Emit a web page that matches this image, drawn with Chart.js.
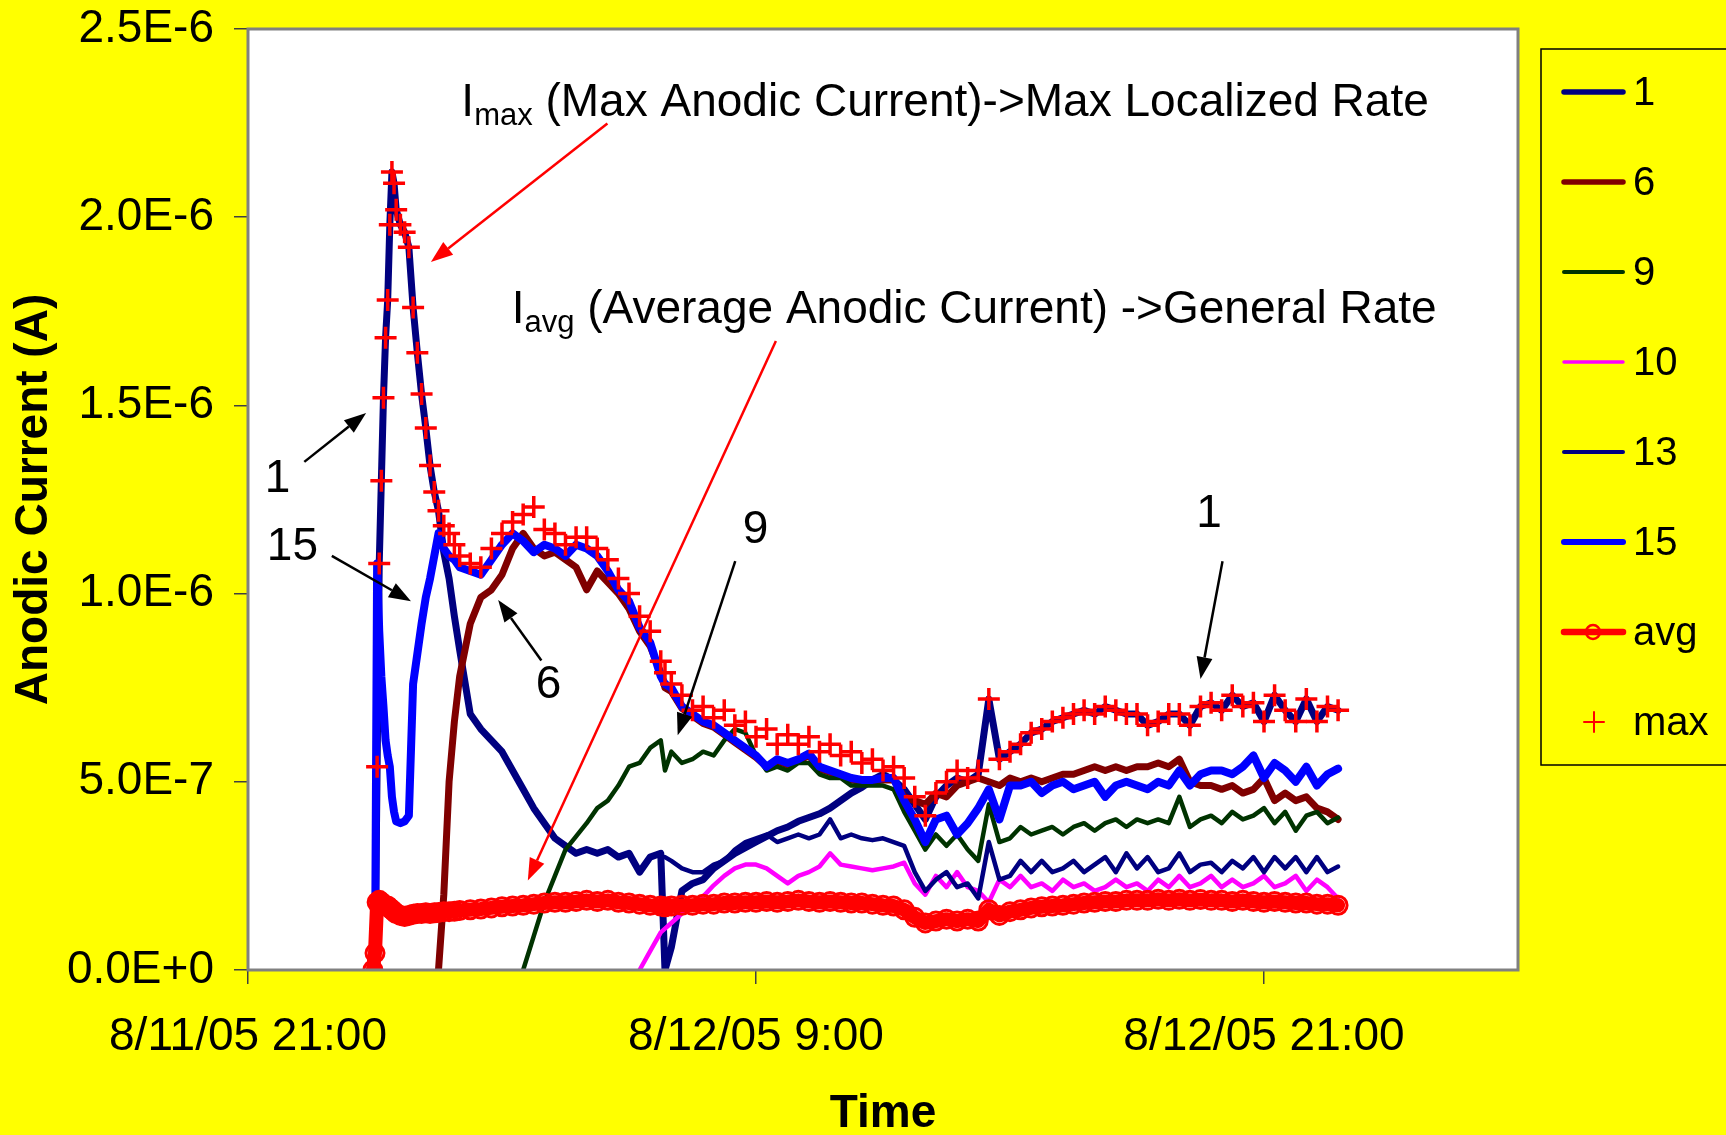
<!DOCTYPE html>
<html>
<head>
<meta charset="utf-8">
<script src="https://cdn.jsdelivr.net/npm/chart.js@4.4.0/dist/chart.umd.min.js"></script>
<style>
  html, body { margin: 0; padding: 0; background: #ffff00; }
  canvas { display: block; }
</style>
</head>
<body>
<canvas id="chart" width="1726" height="1135"></canvas>
<script>
// hours after 8/11/05 21:00, currents in units of 1E-7 A
const n = null;
const hours = [
  2.95, 3, 3.05, 3.1, 3.15, 3.2, 3.25, 3.3, 3.35, 3.4, 3.45, 3.5, 3.6, 3.7, 3.8, 3.9, 4, 4.1, 4.2, 4.3, 4.4, 4.5, 4.625, 4.75, 4.875, 5,
  5.25, 5.5, 5.75, 6, 6.25, 6.5, 6.75, 7, 7.25, 7.5, 7.75, 8, 8.25, 8.5, 8.75, 9, 9.25, 9.5, 9.75, 9.85,
  10, 10.25, 10.5, 10.75, 11, 11.25, 11.5, 11.75, 12, 12.25, 12.5, 12.75, 13, 13.25, 13.5, 13.75,
  14, 14.25, 14.5, 14.75, 15, 15.25, 15.5, 15.75, 16, 16.25, 16.5, 16.75, 17, 17.25, 17.5, 17.75,
  18, 18.25, 18.5, 18.75, 19, 19.25, 19.5, 19.75, 20, 20.25, 20.5, 20.75, 21, 21.25, 21.5, 21.75,
  22, 22.25, 22.5, 22.75, 23, 23.25, 23.5, 23.75, 24, 24.25, 24.5, 24.75, 25, 25.25, 25.5, 25.75
];

const s1 = [
  n, 0, 5.4, 10.8, 13.0, 15.2, 16.8, 17.8, 19.8, 21.2, 20.9, 20.2, 19.8, 19.6, 19.2, 17.6, 16.4, 15.3, 14.4, 13.4, 12.7, 12.2, 11.1, 10.4, 9.4, 8.5,
  6.8, 6.4, 6.1, 5.8, 5.3, 4.8, 4.3, 3.9, 3.5, 3.3, 3.1, 3.2, 3.1, 3.2, 3.0, 3.1, 2.6, 3.0, 3.1, 0,
  0.6, 2.1, 2.3, 2.4, 2.7, 2.9, 3.1, 3.25, 3.4, 3.55, 3.7, 3.8, 3.95, 4.05, 4.15, 4.3,
  4.5, 4.7, 4.85, 5.05, 5.2, 5.05, 4.8, 4.4, 4.0, 4.6, 4.9, 5.1, 5.0, 5.2, 7.2, 5.6,
  5.8, 6.0, 6.3, 6.4, 6.6, 6.7, 6.8, 6.9, 6.8, 7.0, 6.9, 6.8, 6.8, 6.5, 6.6, 6.8,
  6.8, 6.5, 7.0, 7.1, 6.9, 7.3, 7.0, 7.1, 6.6, 7.3, 6.9, 6.6, 7.2, 6.6, 7.0, 6.9
];
const s6 = [
  n, n, n, n, n, n, n, n, n, n, n, n, n, n, n, n, n, n, n, n, n, 0, 2.0, 5.0, 6.6, 7.8,
  9.2, 9.9, 10.1, 10.5, 11.2, 11.6, 11.2, 11.0, 11.1, 10.9, 10.7, 10.1, 10.6, 10.3, 10.0, 9.6, 9.0, 8.6, 7.9, 7.5,
  7.4, 6.95, 6.75, 6.55, 6.45, 6.25, 6.05, 5.85, 5.65, 5.4, 5.55, 5.45, 5.55, 5.7, 5.35, 5.25,
  5.15, 5.05, 5.0, 5.0, 5.05, 5.05, 4.6, 4.5, 4.4, 4.7, 4.6, 4.9, 5.0, 5.1, 5.0, 4.9,
  5.1, 5.0, 5.1, 5.0, 5.1, 5.2, 5.2, 5.3, 5.4, 5.3, 5.4, 5.3, 5.4, 5.4, 5.5, 5.4,
  5.6, 5.0, 4.9, 4.9, 4.8, 4.9, 4.7, 4.8, 5.1, 4.5, 4.7, 4.5, 4.6, 4.3, 4.2, 4.0
];
const s9 = [
  n, n, n, n, n, n, n, n, n, n, n, n, n, n, n, n, n, n, n, n, n, n, n, n, n, n,
  n, n, n, n, n, 0, 0.9, 1.8, 2.5, 3.2, 3.55, 3.9, 4.3, 4.5, 4.9, 5.4, 5.5, 5.9, 6.1, 5.3,
  5.8, 5.5, 5.6, 5.8, 5.7, 6.1, 6.4, 6.3, 5.7, 5.3, 5.4, 5.3, 5.5, 5.5, 5.2, 5.1,
  5.1, 4.9, 4.9, 4.9, 4.9, 4.8, 4.2, 3.7, 3.2, 3.6, 3.3, 3.6, 3.2, 2.9, 4.4, 3.4,
  3.5, 3.8, 3.6, 3.7, 3.8, 3.6, 3.8, 3.9, 3.7, 3.9, 4.0, 3.8, 4.0, 3.9, 4.0, 3.9,
  4.6, 3.8, 4.0, 4.1, 3.9, 4.2, 4.0, 4.1, 4.3, 3.9, 4.2, 3.7, 4.1, 4.2, 3.9, 4.05
];
const s10 = [
  n, n, n, n, n, n, n, n, n, n, n, n, n, n, n, n, n, n, n, n, n, n, n, n, n, n,
  n, n, n, n, n, n, n, n, n, n, n, n, n, n, n, n, 0, 0.5, 1.0, 1.1,
  1.25, 1.5, 1.7, 1.95, 2.25, 2.5, 2.7, 2.8, 2.8, 2.7, 2.5, 2.3, 2.5, 2.6, 2.75, 3.1,
  2.8, 2.75, 2.7, 2.65, 2.7, 2.75, 2.85, 2.3, 2.0, 2.5, 2.2, 2.6, 2.2, 2.1, 1.8, 2.4,
  2.2, 2.5, 2.2, 2.3, 2.1, 2.4, 2.2, 2.3, 2.1, 2.2, 2.4, 2.2, 2.3, 2.1, 2.4, 2.2,
  2.5, 2.2, 2.3, 2.5, 2.2, 2.4, 2.2, 2.3, 2.5, 2.2, 2.3, 2.5, 2.1, 2.4, 2.2, 1.9
];
const s13 = [
  n, n, n, n, n, n, n, n, n, n, n, n, n, n, n, n, n, n, n, n, n, n, n, n, n, n,
  n, n, n, n, n, n, n, n, n, n, n, n, n, n, n, n, n, n, n, 3.0,
  2.9, 2.7, 2.6, 2.6, 2.8, 2.9, 3.2, 3.4, 3.5, 3.6, 3.4, 3.5, 3.6, 3.5, 3.6, 4.0,
  3.5, 3.6, 3.5, 3.45, 3.5, 3.4, 3.3, 2.6, 2.1, 2.4, 2.6, 2.2, 2.3, 1.9, 3.4, 2.4,
  2.5, 2.9, 2.6, 2.9, 2.6, 2.7, 2.9, 2.6, 2.8, 3.0, 2.6, 3.1, 2.7, 3.0, 2.6, 2.7,
  3.1, 2.6, 2.8, 2.85, 2.6, 2.9, 2.7, 3.0, 2.6, 3.0, 2.7, 3.0, 2.6, 3.0, 2.6, 2.75
];
const s15 = [
  n, 0, 10.8, 9.0, 7.8, 7.0, 6.1, 5.7, 5.4, 4.6, 4.2, 3.95, 3.9, 3.95, 4.1, 7.6, 8.4, 9.2, 9.9, 10.4, 11.0, 11.6, 11.2, 11.0, 10.9, 10.7,
  10.6, 10.5, 10.9, 11.3, 11.6, 11.4, 11.1, 11.3, 11.2, 11.0, 11.3, 11.2, 11.0, 10.6, 10.1, 9.8, 9.1, 8.7, 7.8, 7.6,
  7.5, 7.0, 6.8, 6.6, 6.5, 6.3, 6.1, 5.9, 5.7, 5.4, 5.6, 5.5, 5.6, 5.75, 5.4, 5.3,
  5.2, 5.1, 5.05, 5.05, 5.1, 5.1, 4.5, 4.0, 3.4, 4.0, 4.1, 3.6, 3.9, 4.3, 4.8, 4.0,
  4.9, 4.9, 5.0, 4.7, 4.9, 5.0, 4.8, 4.9, 5.0, 4.6, 4.9, 5.0, 4.9, 4.8, 5.0, 4.9,
  5.3, 4.9, 5.2, 5.3, 5.3, 5.2, 5.4, 5.7, 5.1, 5.5, 5.3, 5.0, 5.4, 4.9, 5.2, 5.35
];
const avg = [
  0, 0.45, 1.8, 1.85, 1.8, 1.75, 1.7, 1.7, 1.65, 1.6, 1.55, 1.5, 1.45, 1.42, 1.45, 1.48, 1.5, 1.5, 1.52, 1.5, 1.52, 1.53, 1.55, 1.55, 1.56, 1.58,
  1.6, 1.62, 1.65, 1.68, 1.7, 1.72, 1.75, 1.78, 1.8, 1.8, 1.82, 1.85, 1.82, 1.85, 1.8, 1.78, 1.75, 1.72, 1.7, 1.68,
  1.7, 1.72, 1.72, 1.75, 1.75, 1.78, 1.78, 1.8, 1.8, 1.82, 1.8, 1.82, 1.85, 1.82, 1.8, 1.82,
  1.8, 1.78, 1.78, 1.75, 1.72, 1.7, 1.6, 1.4, 1.25, 1.3, 1.35, 1.3, 1.35, 1.3, 1.6, 1.45,
  1.55, 1.6, 1.65, 1.68, 1.7, 1.72, 1.75, 1.78, 1.8, 1.82, 1.82, 1.85, 1.85, 1.85, 1.88, 1.85,
  1.88, 1.85, 1.87, 1.85, 1.85, 1.82, 1.85, 1.82, 1.8, 1.82, 1.8, 1.78, 1.78, 1.75, 1.75, 1.72
];
const max = [
  n, n, 5.4, 10.8, 13.0, 15.2, 16.8, 17.8, 19.8, 21.2, 20.9, 20.2, 19.8, 19.6, 19.2, 17.6, 16.4, 15.3, 14.4, 13.4, 12.7, 12.2, 11.8, 11.6, 11.3, 11.0,
  10.8, 10.7, 11.2, 11.6, 11.9, 12.1, 12.3, 11.7, 11.6, 11.3, 11.5, 11.5, 11.2, 10.9, 10.4, 10.0, 9.4, 9.0, 8.2, 7.9,
  7.6, 7.3, 6.9, 7.0, 6.7, 6.9, 6.5, 6.6, 6.2, 6.4, 6.0, 6.25, 6.0, 6.2, 5.8, 6.0,
  5.7, 5.8, 5.5, 5.6, 5.3, 5.4, 5.1, 4.6, 4.1, 4.7, 5.0, 5.3, 5.1, 5.3, 7.2, 5.6,
  5.8, 6.0, 6.3, 6.4, 6.6, 6.7, 6.8, 6.9, 6.8, 7.0, 6.9, 6.8, 6.8, 6.5, 6.6, 6.8,
  6.8, 6.5, 7.0, 7.1, 6.9, 7.3, 7.0, 7.1, 6.6, 7.3, 6.9, 6.6, 7.2, 6.6, 7.0, 6.9
];

const xTickHours = [0, 12, 24];
const xTickLabels = ['8/11/05 21:00', '8/12/05 9:00', '8/12/05 21:00'];
const yTickValues = [0, 5, 10, 15, 20, 25];
const yTickLabels = ['0.0E+0', '5.0E-7', '1.0E-6', '1.5E-6', '2.0E-6', '2.5E-6'];

const FONT = "'Liberation Sans', Arial, Helvetica, sans-serif";

function toXY(values) {
  return hours.map((h, i) => ({ x: h, y: values[i] }));
}

function lineSet(label, values, color, width, order) {
  return {
    label: label, data: toXY(values), borderColor: color, backgroundColor: color,
    borderWidth: width, pointRadius: 0, tension: 0, order: order,
    borderCapStyle: 'round', borderJoinStyle: 'round', spanGaps: false
  };
}

const datasets = [
  lineSet('1', s1, '#000080', 7, 7),
  lineSet('6', s6, '#800000', 7, 6),
  lineSet('9', s9, '#003300', 4.5, 5),
  lineSet('10', s10, '#ff00ff', 4.5, 4),
  lineSet('13', s13, '#000080', 4.5, 3),
  lineSet('15', s15, '#0000ff', 8, 2),
  Object.assign(lineSet('avg', avg, '#ff0000', 14, 1), {
    pointStyle: 'circle', pointRadius: 9, pointBorderWidth: 3,
    pointBorderColor: '#ff0000', pointBackgroundColor: 'rgba(0,0,0,0)'
  }),
  {
    label: 'max', data: toXY(max), showLine: false, order: 0,
    pointStyle: 'cross', pointRadius: 11, pointBorderWidth: 3.5,
    pointBorderColor: '#ff0000', borderColor: '#ff0000', backgroundColor: '#ff0000'
  }
];

// text and arrows placed in data units (hours, 1E-7 A)
const curveLabels = [
  { text: '1', h: 0.70, v: 13.04 },
  { text: '15', h: 1.05, v: 11.24 },
  { text: '6', h: 7.10, v: 7.57 },
  { text: '9', h: 11.99, v: 11.67 },
  { text: '1', h: 22.70, v: 12.11 }
];
const arrows = [
  [1.33, 13.5, 2.79, 14.8, '#000'],
  [1.98, 11.0, 3.85, 9.8, '#000'],
  [6.93, 8.22, 5.91, 9.83, '#000'],
  [11.51, 10.86, 10.15, 6.24, '#000'],
  [23.02, 10.86, 22.5, 7.73, '#000'],
  [8.49, 22.49, 4.32, 18.81, '#ff0000'],
  [12.47, 16.71, 6.61, 2.38, '#ff0000']
];
const headers = [
  { h: 5.04, v: 22.69, main: 'I', sub: 'max', rest: ' (Max Anodic Current)->Max Localized Rate' },
  { h: 6.23, v: 17.19, main: 'I', sub: 'avg', rest: ' (Average Anodic Current) ->General Rate' }
];

function drawArrow(ctx, x1, y1, x2, y2, color) {
  const ang = Math.atan2(y2 - y1, x2 - x1);
  const len = 22, half = 8;
  const bx = x2 - Math.cos(ang) * len, by = y2 - Math.sin(ang) * len;
  ctx.strokeStyle = color;
  ctx.fillStyle = color;
  ctx.lineWidth = 2.5;
  ctx.beginPath();
  ctx.moveTo(x1, y1);
  ctx.lineTo(bx, by);
  ctx.stroke();
  ctx.beginPath();
  ctx.moveTo(x2, y2);
  ctx.lineTo(bx + Math.sin(ang) * half, by - Math.cos(ang) * half);
  ctx.lineTo(bx - Math.sin(ang) * half, by + Math.cos(ang) * half);
  ctx.closePath();
  ctx.fill();
}

const plotFrame = {
  id: 'plotFrame',
  beforeDraw(chart) {
    const a = chart.chartArea;
    chart.ctx.save();
    chart.ctx.fillStyle = '#ffffff';
    chart.ctx.fillRect(a.left, a.top, a.right - a.left, a.bottom - a.top);
    chart.ctx.restore();
  },
  afterDatasetsDraw(chart) {
    const a = chart.chartArea, ctx = chart.ctx;
    ctx.save();
    ctx.strokeStyle = '#808080';
    ctx.lineWidth = 3;
    ctx.strokeRect(a.left, a.top, a.right - a.left, a.bottom - a.top);
    ctx.restore();
  }
};

const notes = {
  id: 'notes',
  afterDraw(chart) {
    const ctx = chart.ctx, xs = chart.scales.x, ys = chart.scales.y;
    const px = h => xs.getPixelForValue(h), py = v => ys.getPixelForValue(v);
    ctx.save();
    arrows.forEach(a => drawArrow(ctx, px(a[0]), py(a[1]), px(a[2]), py(a[3]), a[4]));
    ctx.fillStyle = '#000';
    ctx.font = '46px ' + FONT;
    ctx.textAlign = 'center';
    ctx.textBaseline = 'middle';
    curveLabels.forEach(l => ctx.fillText(l.text, px(l.h), py(l.v)));
    ctx.textAlign = 'left';
    ctx.textBaseline = 'alphabetic';
    headers.forEach(t => {
      let x = px(t.h);
      const y = py(t.v);
      ctx.font = '46px ' + FONT;
      ctx.fillText(t.main, x, y);
      x += ctx.measureText(t.main).width;
      ctx.font = '31px ' + FONT;
      ctx.fillText(t.sub, x, y + 9);
      x += ctx.measureText(t.sub).width;
      ctx.font = '46px ' + FONT;
      ctx.fillText(t.rest, x, y);
    });
    ctx.restore();
  }
};

const legendWidths = [5.5, 5.5, 4, 3.5, 4, 6, 6.5];

const boxLegend = {
  id: 'boxLegend',
  afterDraw(chart) {
    const ctx = chart.ctx;
    ctx.save();
    ctx.strokeStyle = '#000';
    ctx.lineWidth = 1.5;
    ctx.strokeRect(1541, 49, 240, 716);
    ctx.font = '40px ' + FONT;
    ctx.textBaseline = 'middle';
    ctx.textAlign = 'left';
    chart.data.datasets.forEach((ds, i) => {
      const y = 92 + i * 90;
      const color = ds.borderColor;
      if (ds.showLine !== false) {
        ctx.strokeStyle = color;
        ctx.lineWidth = legendWidths[i];
        ctx.lineCap = 'round';
        ctx.beginPath();
        ctx.moveTo(1564, y);
        ctx.lineTo(1623, y);
        ctx.stroke();
      }
      if (ds.pointStyle === 'circle') {
        ctx.lineWidth = 2.5;
        ctx.beginPath();
        ctx.arc(1593, y, 7, 0, Math.PI * 2);
        ctx.stroke();
      }
      if (ds.pointStyle === 'cross') {
        ctx.strokeStyle = color;
        ctx.lineWidth = 2;
        ctx.beginPath();
        ctx.moveTo(1584, y); ctx.lineTo(1604, y);
        ctx.moveTo(1594, y - 10); ctx.lineTo(1594, y + 10);
        ctx.stroke();
      }
      ctx.fillStyle = '#000';
      ctx.fillText(ds.label, 1633, y + 2);
    });
    ctx.restore();
  }
};

new Chart(document.getElementById('chart'), {
  type: 'line',
  data: { datasets: datasets },
  options: {
    responsive: false,
    animation: false,
    devicePixelRatio: 1,
    events: [],
    layout: { padding: { top: 29, right: 208, bottom: 0, left: 0 } },
    plugins: { legend: { display: false }, tooltip: { enabled: false } },
    scales: {
      x: {
        type: 'linear', min: 0, max: 30,
        afterBuildTicks: s => { s.ticks = xTickHours.map(v => ({ value: v })); },
        afterFit: s => { s.height = 165; s.paddingLeft = 0; s.paddingRight = 0; },
        ticks: {
          callback: (v, i) => xTickLabels[i],
          font: { size: 46, family: FONT }, color: '#000', padding: 26,
          maxRotation: 0, autoSkip: false
        },
        grid: { drawOnChartArea: false, drawTicks: true, tickLength: 14, color: '#404040', lineWidth: 1.5 },
        border: { display: false },
        title: {
          display: true, text: 'Time', color: '#000',
          font: { size: 46, weight: 'bold', family: FONT, lineHeight: 0.9 },
          padding: { top: 0, bottom: 0 }
        }
      },
      y: {
        min: 0, max: 25,
        afterBuildTicks: s => { s.ticks = yTickValues.map(v => ({ value: v })); },
        afterFit: s => { s.width = 248; s.paddingTop = 0; s.paddingBottom = 0; },
        ticks: {
          callback: (v, i) => yTickLabels[i],
          font: { size: 46, family: FONT }, color: '#000', padding: 20
        },
        grid: { drawOnChartArea: false, drawTicks: true, tickLength: 14, color: '#404040', lineWidth: 1.5 },
        border: { display: false },
        title: {
          display: true, text: 'Anodic Current (A)', color: '#000',
          font: { size: 46, weight: 'bold', family: FONT, lineHeight: 0.9 },
          padding: { top: 14, bottom: 0 }
        }
      }
    }
  },
  plugins: [plotFrame, notes, boxLegend]
});
</script>
</body>
</html>
